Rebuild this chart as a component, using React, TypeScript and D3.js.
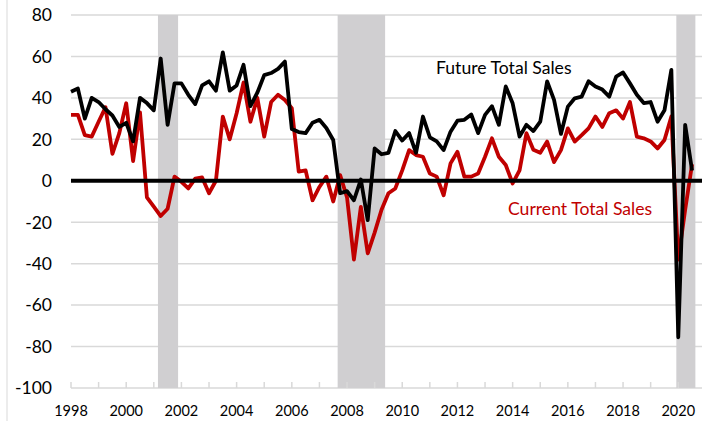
import React from 'react';
import * as d3 from 'd3';

// quarterly readings, 1998 Q1 .. 2020 Q3
const startYear = 1998;

const futureSales = [
  43, 44.5, 30, 40, 38, 34.5, 31.5, 26, 28, 19,
  40, 37.5, 34, 59, 27, 47, 47, 41.5, 37, 46,
  48, 43.5, 62, 43.5, 46, 56, 36, 42.5, 51, 52,
  54, 57.5, 25, 23.5, 23, 28, 29.4, 25.5, 19.7, -6,
  -5, -9.4, 0.6, -19, 15.6, 12.8, 13.5, 24, 19.4, 23,
  13.5, 31, 21, 19, 14.8, 23.7, 29, 29.4, 32, 23,
  31.8, 36, 27, 45.5, 37.4, 21.3, 27, 24, 28.5, 48,
  39, 22.6, 35.8, 39.8, 40.6, 48, 45.5, 44, 40.6, 50.3,
  52.3, 47, 41.5, 37.5, 38, 28.5, 34, 53.5, -75.5, 27,
  5,
];

const currentSales = [
  31.8, 31.8, 22, 21.3, 28.5, 35.5, 13, 23, 37.4, 9.5,
  33, -8, -12.5, -17, -13.5, 2, -0.5, -3.7, 1, 1.6,
  -6, 0, 31, 20, 32.6, 47.4, 28.5, 40, 21.3, 38,
  41.5, 39, 35, 4.4, 5, -9.4, -3, 2, -10, 2.7,
  -8, -38, -12.6, -35, -25, -14, -6, -3.7, 5, 14.8,
  12.4, 11.6, 3.5, 2, -7, 8.4, 14, 2, 2, 3.5,
  11.6, 20.5, 11.6, 7.6, -1.3, 5, 23, 15, 13.5, 18.9,
  9, 14.8, 25.3, 18.9, 22, 25.3, 31, 26, 32.6, 34,
  30, 38, 21.3, 20.5, 19, 15.6, 19.7, 31, -38, -14,
  8,
];

// recession shading (fractional years)
const recessions: [number, number][] = [
  [2001.15, 2001.88],
  [2007.66, 2009.38],
  [2019.93, 2020.62],
];

const yTicks = [80, 60, 40, 20, 0, -20, -40, -60, -80, -100];
const xLabelYears = [1998, 2000, 2002, 2004, 2006, 2008, 2010, 2012, 2014, 2016, 2018, 2020];
const xTickYears = d3.range(1998, 2021);

const W = 709;
const H = 421;
const margin = { left: 71, right: 7, top: 15, bottom: 33 };

export default function App() {
  const x = d3.scaleLinear()
    .domain([1998, 2020.86])
    .range([margin.left, W - margin.right]);
  const y = d3.scaleLinear()
    .domain([-100, 80])
    .range([H - margin.bottom, margin.top]);

  const line = d3.line<number>()
    .x((_, i) => x(startYear + i / 4))
    .y(d => y(d))
    .curve(d3.curveLinear);

  const font = 'Lato, "Open Sans", sans-serif';

  return (
    <svg width={W} height={H} style={{ position: 'absolute', left: 0, top: 0, background: '#fff' }}>
      <line x1={7} x2={7} y1={0} y2={H} stroke="#d9d9d9" strokeWidth={1} />

      {/* gridlines */}
      {yTicks.map(t => (
        <line key={t} x1={x.range()[0]} x2={x.range()[1]} y1={y(t)} y2={y(t)}
          stroke="#d9d9d9" strokeWidth={1.5} />
      ))}

      {/* recession bars */}
      {recessions.map(([a, b]) => (
        <rect key={a} x={x(a)} width={x(b) - x(a)} y={y(80)} height={y(-100) - y(80)} fill="#d0cfd1" />
      ))}

      {/* x axis ticks (inside) */}
      {xTickYears.map(yr => (
        <line key={yr} x1={x(yr)} x2={x(yr)} y1={y(-100)} y2={y(-100) - 6} stroke="#d9d9d9" strokeWidth={1.5} />
      ))}

      {/* series */}
      <path d={line(currentSales) ?? ''} fill="none" stroke="#c00000" strokeWidth={3.8} strokeLinejoin="round" />
      <path d={line(futureSales) ?? ''} fill="none" stroke="#000" strokeWidth={3.8} strokeLinejoin="round" />

      {/* zero line */}
      <line x1={x.range()[0]} x2={x.range()[1]} y1={y(0)} y2={y(0)} stroke="#000" strokeWidth={4} />

      {/* y labels */}
      {yTicks.map(t => (
        <text key={t} x={52} y={y(t)} dy="0.36em" textAnchor="end" fontFamily={font} fontSize={17.5} fill="#000">
          {t}
        </text>
      ))}

      {/* x labels */}
      {xLabelYears.map(yr => (
        <text key={yr} x={x(yr)} y={416} textAnchor="middle" fontFamily={font} fontSize={14.5} fill="#000">
          {yr}
        </text>
      ))}

      <text x={436} y={74} fontFamily={font} fontSize={17.6} fill="#000">Future Total Sales</text>
      <text x={508} y={215} fontFamily={font} fontSize={17.6} fill="#c00000">Current Total Sales</text>
    </svg>
  );
}
